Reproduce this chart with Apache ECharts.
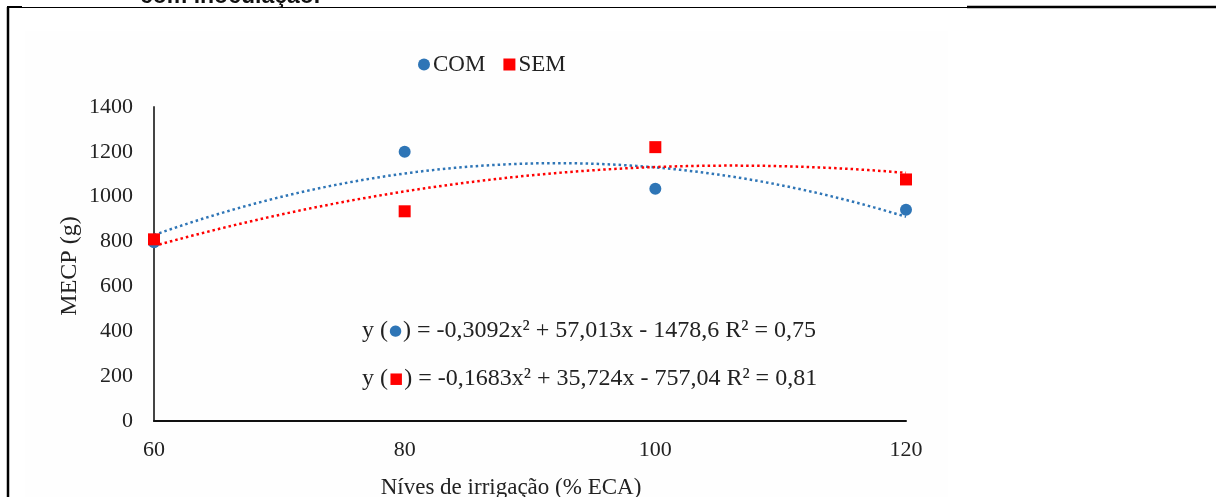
<!DOCTYPE html>
<html>
<head>
<meta charset="utf-8">
<script src="https://cdn.jsdelivr.net/npm/echarts@6/dist/echarts.min.js"></script>
<style>
  html, body { margin: 0; padding: 0; background: #ffffff; }
  #chart { width: 1216px; height: 497px; }
</style>
</head>
<body>
<div id="chart"></div>
<script>
// Irrigation levels (% ECA)
const levels = [60, 80, 100, 120];
// MECP (g) per irrigation level
const comValues = [797, 1200, 1035, 942];   // COM
const semValues = [810, 935, 1221, 1077];   // SEM
// Quadratic trend coefficients [a, b, c] for y = a x² + b x + c, and R²
const comCoef = [-0.3092, 57.013, -1478.6];
const semCoef = [-0.1683, 35.724, -757.04];
const comR2 = 0.75;
const semR2 = 0.81;
// Axis ticks
const xTicks = [60, 80, 100, 120];
const yTicks = [0, 200, 400, 600, 800, 1000, 1200, 1400];

const BLUE = '#2E75B6';
const RED = '#FF0000';
const SERIF = '"Liberation Serif", "Times New Roman", serif';

function trend(coef) {
  const pts = [];
  for (let x = levels[0]; x <= levels[levels.length - 1] + 1e-9; x += 0.5) {
    pts.push([x, coef[0] * x * x + coef[1] * x + coef[2]]);
  }
  return pts;
}

function num(v) { return String(Math.abs(v)).replace('.', ','); }
function sign(v) { return v < 0 ? ' - ' : ' + '; }
function eqText(coef, r2, mark) {
  return '{t|y (}{' + mark + '|' + (mark === 'c' ? '●' : '■') + '}{t|) = ' +
    (coef[0] < 0 ? '-' : '') + num(coef[0]) + 'x²' +
    sign(coef[1]) + num(coef[1]) + 'x' +
    sign(coef[2]) + num(coef[2]) + ' R² = ' + num(r2) + '}';
}

const eqRich = {
  t: { fontFamily: SERIF, fontSize: 24, fill: '#222' },
  c: { fontFamily: '"DejaVu Sans"', fontSize: 15, fill: BLUE, padding: [0, 1, 0, 1] },
  s: { fontFamily: '"DejaVu Sans"', fontSize: 15, fill: RED, padding: [0, 1, 0, 1] }
};

const chart = echarts.init(document.getElementById('chart'), null, { renderer: 'canvas' });

chart.setOption({
  backgroundColor: '#ffffff',
  animation: false,
  textStyle: { fontFamily: SERIF },
  grid: { left: 154, right: 310, top: 107, bottom: 76, containLabel: false },
  legend: {
    data: ['COM', 'SEM'],
    left: 413,
    top: 48,
    itemWidth: 12,
    itemHeight: 12,
    itemGap: 18,
    textStyle: { fontFamily: SERIF, fontSize: 23, color: '#222', padding: [0, 0, 0, -2] }
  },
  xAxis: {
    type: 'value',
    min: xTicks[0],
    max: xTicks[xTicks.length - 1],
    interval: 20,
    splitLine: { show: false },
    axisTick: { show: false },
    axisLine: { lineStyle: { color: '#111', width: 2 } },
    axisLabel: { fontFamily: SERIF, fontSize: 22, color: '#222', margin: 18,
      formatter: v => xTicks.includes(v) ? String(v) : '' }
  },
  yAxis: {
    type: 'value',
    min: yTicks[0],
    max: yTicks[yTicks.length - 1],
    interval: 200,
    splitLine: { show: false },
    axisTick: { show: false },
    axisLine: { show: true, lineStyle: { color: '#444', width: 2 } },
    axisLabel: { fontFamily: SERIF, fontSize: 22, color: '#222', margin: 21,
      formatter: v => yTicks.includes(v) ? String(v) : '' }
  },
  graphic: [
    // page frame
    { type: 'rect', z: -10, shape: { x: 25, y: 31, width: 923, height: 470 }, style: { fill: '#fefefe' }, silent: true },
    { type: 'line', shape: { x1: 8, y1: 7, x2: 8, y2: 497 }, style: { stroke: '#000', lineWidth: 2.5 } },
    { type: 'line', shape: { x1: 7, y1: 7.5, x2: 967, y2: 7.5 }, style: { stroke: '#000', lineWidth: 1 } },
    { type: 'line', shape: { x1: 7, y1: 7, x2: 22, y2: 7 }, style: { stroke: '#000', lineWidth: 2 } },
    { type: 'line', shape: { x1: 967, y1: 7, x2: 1216, y2: 7 }, style: { stroke: '#000', lineWidth: 2.5 } },
    { type: 'text', left: 140, top: -15, style: { text: 'com inoculação.', font: 'bold 23px "Liberation Sans", Arial, sans-serif', fill: '#111' } },
    // axis titles
    { type: 'text', x: 70, y: 266, rotation: Math.PI / 2,
      style: { text: 'MECP (g)', font: '24px ' + SERIF, fill: '#222', align: 'center', verticalAlign: 'middle' } },
    { type: 'text', x: 511, y: 488,
      style: { text: 'Níves de irrigação (% ECA)', font: '23px ' + SERIF, fill: '#222', align: 'center', verticalAlign: 'middle' } },
    // regression equations
    { type: 'text', x: 362, y: 331,
      style: { text: eqText(comCoef, comR2, 'c'), rich: eqRich, verticalAlign: 'middle' } },
    { type: 'text', x: 362, y: 379,
      style: { text: eqText(semCoef, semR2, 's'), rich: eqRich, verticalAlign: 'middle' } }
  ],
  series: [
    {
      name: 'COM trend', type: 'line', data: trend(comCoef), showSymbol: false, symbol: 'none',
      lineStyle: { color: BLUE, width: 2.5, type: [2.5, 3] }, z: 2, silent: true
    },
    {
      name: 'SEM trend', type: 'line', data: trend(semCoef), showSymbol: false, symbol: 'none',
      lineStyle: { color: RED, width: 2.5, type: [2.5, 3] }, z: 2, silent: true
    },
    {
      name: 'COM', type: 'scatter', symbol: 'circle', symbolSize: 12,
      itemStyle: { color: BLUE, opacity: 1 }, z: 5,
      data: levels.map((x, i) => [x, comValues[i]])
    },
    {
      name: 'SEM', type: 'scatter', symbol: 'rect', symbolSize: 12,
      itemStyle: { color: RED, opacity: 1 }, z: 6,
      data: levels.map((x, i) => [x, semValues[i]])
    }
  ]
});
</script>
</body>
</html>
